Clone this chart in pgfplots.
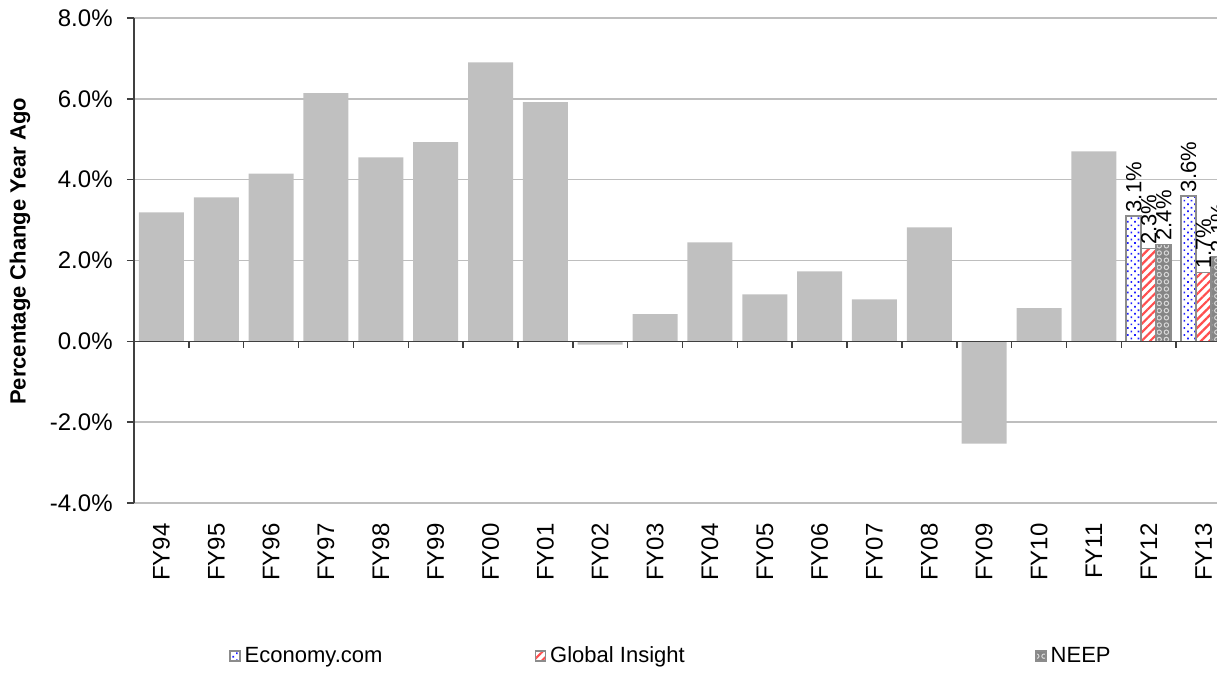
\documentclass[border=0pt]{standalone}
\usepackage{pgfplots}
\pgfplotsset{compat=1.18}
\usepackage{fontspec}
\setmainfont{Liberation Sans}
\usetikzlibrary{patterns,patterns.meta}
\definecolor{histgray}{HTML}{C0C0C0}
\definecolor{edgegray}{HTML}{8C8C8C}
\definecolor{gridgray}{HTML}{BEBEBE}
\definecolor{dotblue}{HTML}{2020FF}
\definecolor{stripered}{HTML}{FF4F4F}
\definecolor{neepgray}{HTML}{858585}
\definecolor{ringcol}{HTML}{D8D8D8}
\tikzdeclarepattern{
  name=rings,
  type=uncolored,
  bounding box={(-1.8pt,-1.8pt) and (1.8pt,1.8pt)},
  tile size={(3.6pt,3.6pt)},
  code={\draw[line width=0.5pt] (0,0) circle (1.1pt);}
}
\pgfplotsset{
  lbl/.style={
    nodes near coords={\pgfmathprintnumber[fixed,fixed zerofill,precision=1]{\pgfplotspointmeta}\%},
    every node near coord/.append style={rotate=90, anchor=west, inner sep=1.5pt,
      font=\fontsize{11}{13}\selectfont, black}},
}
\begin{document}
\begin{tikzpicture}
\begin{axis}[
  at={(67pt,91pt)}, anchor=south west,
  scale only axis, width=548.5pt, height=242.5pt,
  xmin=-0.5, xmax=19.5, ymin=-4, ymax=8,
  axis x line*=bottom, axis y line*=left,
  x axis line style={draw=none},
  y axis line style={-, draw=black!75, line width=0.75pt},
  xtick={0,...,19},
  xticklabels={FY94,FY95,FY96,FY97,FY98,FY99,FY00,FY01,FY02,FY03,FY04,FY05,FY06,FY07,FY08,FY09,FY10,FY11,FY12,FY13},
  xtick style={draw=none},
  xticklabel style={rotate=90, anchor=east, inner sep=0pt, font=\fontsize{12}{14}\selectfont},
  xticklabel shift=6.5pt,
  ytick={-4,-2,0,2,4,6,8},
  yticklabels={-4.0\%,-2.0\%,0.0\%,2.0\%,4.0\%,6.0\%,8.0\%},
  yticklabel style={font=\fontsize{12}{14}\selectfont, inner sep=0pt},
  yticklabel shift=7pt,
  ytick style={draw=black!75, line width=0.75pt},
  tick align=outside, major tick length=3.5pt,
  ymajorgrids, grid style={draw=gridgray, line width=0.75pt},
  ylabel={Percentage Change Year Ago},
  ylabel style={font=\bfseries\fontsize{11}{13}\selectfont, at={(axis description cs:-0.104,0.519)}, anchor=center},
  /pgf/number format/assume math mode=true,
  clip=false,
  legend columns=3,
  legend style={at={(axis description cs:0.081,-0.3155)}, anchor=west, draw=none, fill=none,
    font=\fontsize{11}{13}\selectfont},
  legend image code/.code={\draw[#1] (0pt,-2.5pt) rectangle (5pt,2.5pt);},
]
\addplot[ybar, bar width=22.5pt, bar shift=0pt, fill=histgray, draw=none, forget plot]
  coordinates {(0,3.19)(1,3.56)(2,4.15)(3,6.14)(4,4.55)(5,4.93)(6,6.90)(7,5.92)(8,-0.08)
               (9,0.67)(10,2.45)(11,1.16)(12,1.73)(13,1.04)(14,2.82)(15,-2.53)(16,0.82)(17,4.70)};
\addplot[ybar, bar width=7.5pt, bar shift=0pt, fill=white, draw=edgegray, line width=0.75pt,
  postaction={pattern={Dots[distance=2.5pt, radius=0.6pt, angle=45]}, pattern color=dotblue}, lbl]
  coordinates {(17.7265,3.1)(18.7265,3.6)};
\addlegendentry{\makebox[143pt][l]{Economy.com}}
\addplot[ybar, bar width=7.5pt, bar shift=0pt, fill=white, draw=edgegray, line width=0.75pt,
  postaction={pattern={Lines[angle=45, distance=3pt, line width=1.1pt]}, pattern color=stripered}, lbl]
  coordinates {(18,2.3)(19,1.7)};
\addlegendentry{\makebox[240.5pt][l]{Global Insight}}
\addplot[ybar, bar width=7.5pt, bar shift=0pt, fill=neepgray, draw=edgegray, line width=0.75pt,
  postaction={pattern=rings, pattern color=ringcol}, lbl]
  coordinates {(18.2735,2.4)(19.2735,2.1)};
\addlegendentry{NEEP}
\draw[black!75, line width=0.75pt] (axis cs:-0.5,0) -- (axis cs:19.5,0);
\pgfplotsinvokeforeach{0.5,1.5,2.5,3.5,4.5,5.5,6.5,7.5,8.5,9.5,10.5,11.5,12.5,13.5,14.5,15.5,16.5,17.5,18.5}{
  \draw[black!75, line width=0.75pt] (axis cs:#1,0) -- ++(0pt,-3.5pt);
}
\end{axis}
\pgfresetboundingbox
\path[use as bounding box] (0pt,0pt) rectangle (608.5pt,342.5pt);
\end{tikzpicture}
\end{document}
